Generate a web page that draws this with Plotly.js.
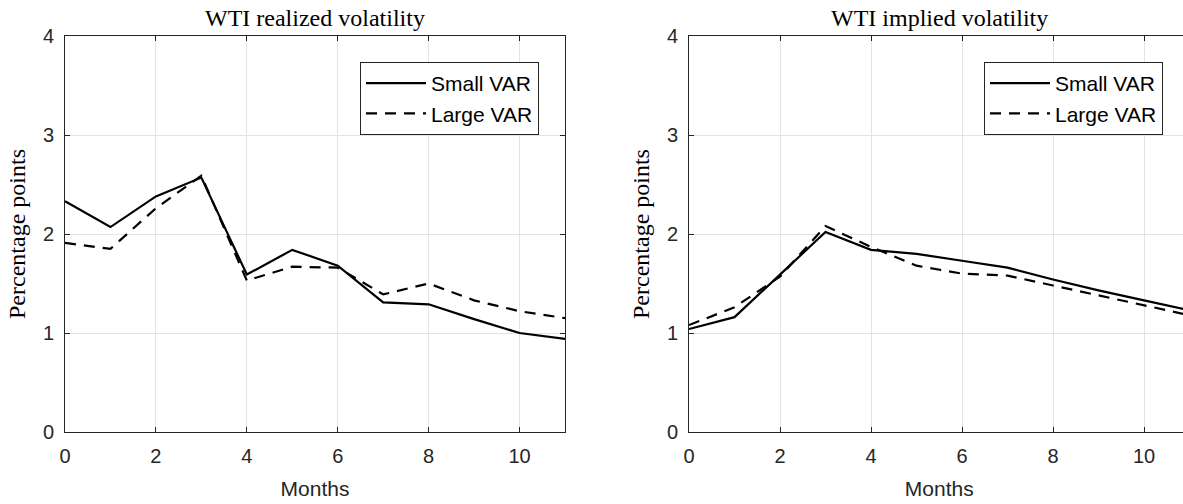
<!DOCTYPE html>
<html>
<head>
<meta charset="utf-8">
<script src="https://cdn.plot.ly/plotly-3.0.1.min.js"></script>
<style>
html,body{margin:0;padding:0;overflow:hidden;background:#fff;}
#chart{width:1195px;height:504px;}
</style>
</head>
<body>
<div id="chart"></div>
<script>
// ---- data ----
const months = [0, 1, 2, 3, 4, 5, 6, 7, 8, 9, 10, 11];
const realizedSmall = [2.33, 2.07, 2.38, 2.57, 1.59, 1.84, 1.68, 1.31, 1.29, 1.14, 1.00, 0.94];
const realizedLarge = [1.91, 1.85, 2.26, 2.59, 1.53, 1.67, 1.66, 1.39, 1.50, 1.33, 1.22, 1.15];
const impliedSmall = [1.04, 1.16, 1.59, 2.02, 1.84, 1.80, 1.73, 1.66, 1.54, 1.43, 1.33, 1.23];
const impliedLarge = [1.08, 1.26, 1.57, 2.08, 1.87, 1.68, 1.60, 1.58, 1.48, 1.38, 1.28, 1.18];
const seriesNames = ['Small VAR', 'Large VAR'];
const panelTitles = ['WTI realized volatility', 'WTI implied volatility'];
const xTickVals = [0, 2, 4, 6, 8, 10];
const yTickVals = [0, 1, 2, 3, 4];

// ---- geometry ----
const W = 1195, H = 504;
const px = v => v / W;
const py = v => 1 - v / H;

const axColor = '#262626';
const gridColor = '#e3e3e3';
const sans = 'Liberation Sans, Arial, sans-serif';
const serif = 'Liberation Serif, Times New Roman, serif';

function line(x, y, name, dash, xa, ya, leg) {
  return {
    x: x, y: y, name: name, type: 'scatter', mode: 'lines',
    xaxis: xa, yaxis: ya, legend: leg,
    line: {color: '#000', width: 2.2, dash: dash},
    hoverinfo: 'skip'
  };
}

const dashPat = '11px,8px';
const data = [
  line(months, realizedSmall, seriesNames[0], 'solid', 'x', 'y', 'legend'),
  line(months, realizedLarge, seriesNames[1], dashPat, 'x', 'y', 'legend'),
  line(months, impliedSmall, seriesNames[0], 'solid', 'x2', 'y2', 'legend2'),
  line(months, impliedLarge, seriesNames[1], dashPat, 'x2', 'y2', 'legend2')
];

function xAxis(domain, anchor) {
  return {
    domain: domain, anchor: anchor, range: [0, 11],
    tickvals: xTickVals, ticks: 'inside', ticklen: 5, tickwidth: 1, tickcolor: axColor,
    showline: true, linecolor: axColor, linewidth: 1, mirror: 'ticks',
    showgrid: true, gridcolor: gridColor, gridwidth: 1, zeroline: false,
    tickfont: {family: sans, size: 20, color: axColor},
    ticklabelstandoff: 6,
    title: {text: 'Months', font: {family: sans, size: 21, color: axColor}, standoff: 15}
  };
}
function yAxis(domain, anchor) {
  return {
    domain: domain, anchor: anchor, range: [0, 4],
    tickvals: yTickVals, ticks: 'inside', ticklen: 5, tickwidth: 1, tickcolor: axColor,
    showline: true, linecolor: axColor, linewidth: 1, mirror: 'ticks',
    showgrid: true, gridcolor: gridColor, gridwidth: 1, zeroline: false,
    tickfont: {family: sans, size: 20, color: axColor},
    ticklabelstandoff: 6,
    title: {text: 'Percentage points', font: {family: serif, size: 24, color: '#000'}, standoff: 10}
  };
}

const yDom = [py(432), py(36)];
function legendAt(rightPx) {
  return {
    x: px(rightPx), xanchor: 'right', y: py(62), yanchor: 'top',
    bgcolor: '#fff', bordercolor: axColor, borderwidth: 1,
    font: {family: sans, size: 21, color: '#000'},
    itemwidth: 60,
    tracegroupgap: 0
  };
}

const layout = {
  width: W, height: H,
  margin: {l: 0, r: 0, t: 0, b: 0},
  paper_bgcolor: '#fff', plot_bgcolor: '#fff',
  xaxis: xAxis([px(65), px(565)], 'y'),
  yaxis: yAxis(yDom, 'x'),
  xaxis2: xAxis([px(689), px(1189.5)], 'y2'),
  yaxis2: yAxis(yDom, 'x2'),
  showlegend: true,
  legend: legendAt(539),
  legend2: legendAt(1163),
  annotations: [
    {text: panelTitles[0], x: px(315), y: py(18), xref: 'paper', yref: 'paper',
     xanchor: 'center', yanchor: 'middle', showarrow: false,
     font: {family: serif, size: 24, color: '#000'}},
    {text: panelTitles[1], x: px(939), y: py(18), xref: 'paper', yref: 'paper',
     xanchor: 'center', yanchor: 'middle', showarrow: false,
     font: {family: serif, size: 24, color: '#000'}}
  ]
};

Plotly.newPlot('chart', data, layout, {staticPlot: true, displayModeBar: false});
</script>
</body>
</html>
